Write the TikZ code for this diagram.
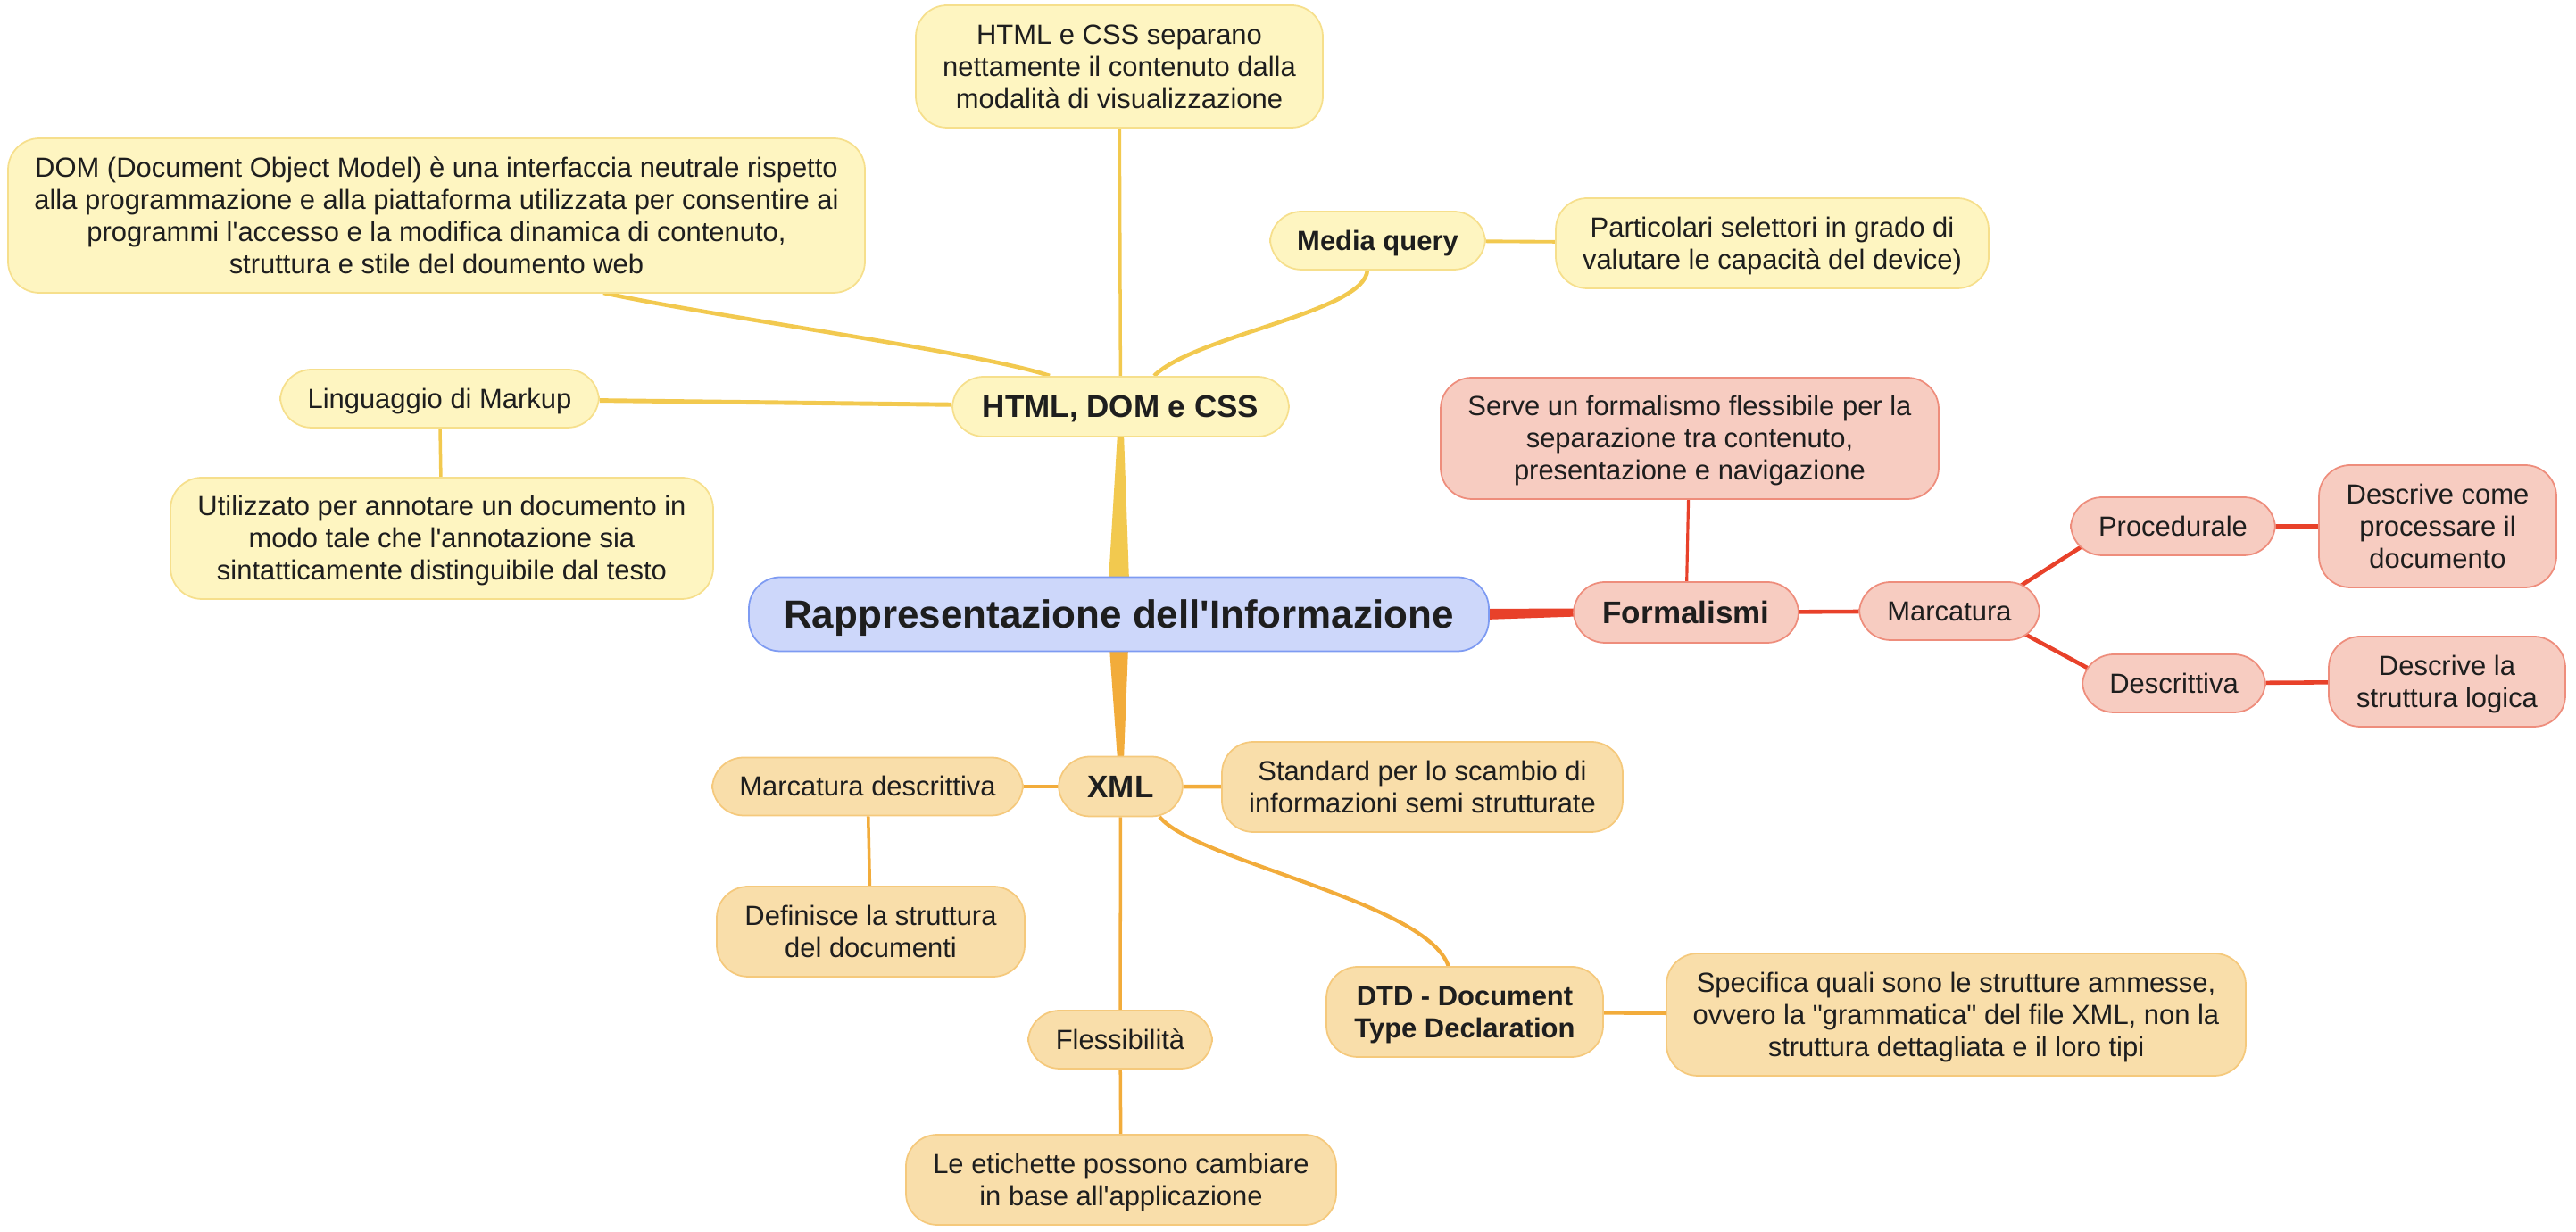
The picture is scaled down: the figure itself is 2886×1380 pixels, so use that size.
\documentclass[tikz,border=0pt]{standalone}
\usepackage{fontspec}
\setmainfont{Liberation Sans}
\usetikzlibrary{calc,backgrounds}
\definecolor{rootfill}{HTML}{CDD7FA}
\definecolor{rootdraw}{HTML}{7E9BF2}
\definecolor{yfill}{HTML}{FEF5C1}
\definecolor{ydraw}{HTML}{F6DF8C}
\definecolor{yline}{HTML}{F2C94F}
\definecolor{ofill}{HTML}{F9DEAA}
\definecolor{odraw}{HTML}{F5C97C}
\definecolor{oline}{HTML}{F2AC3B}
\definecolor{rfill}{HTML}{F7CCC1}
\definecolor{rdraw}{HTML}{EE8D7C}
\definecolor{rline}{HTML}{E8412A}
\definecolor{txt}{HTML}{1E1E1E}
\newcommand{\normtxt}{\fontsize{8.8pt}{10.25pt}\selectfont}
\newcommand{\lvltxt}{\fontsize{9.96pt}{11.5pt}\selectfont\bfseries}
\newcommand{\roottxt}{\fontsize{12.5pt}{14.5pt}\selectfont\bfseries}
\newcommand{\tstr}{\vrule width0pt height 7.95pt\relax}
\newcommand{\bstr}{\vrule width0pt depth 1.87pt\relax}
\begin{document}
\begin{tikzpicture}[x=0.01cm,y=-0.01cm,
  box/.style={draw, line width=0.5pt, rounded corners=10pt, align=center, inner sep=0pt, text=txt, font=\normtxt},
  wh/.style 2 args={minimum width=#1*0.01cm, minimum height=#2*0.01cm},
  sl/.style={text height=7.95pt, text depth=1.87pt},
  sllvl/.style={text height=9pt, text depth=2.1pt},
  ybox/.style={box, fill=yfill, draw=ydraw},
  obox/.style={box, fill=ofill, draw=odraw},
  rbox/.style={box, fill=rfill, draw=rdraw},
  yl/.style={draw=yline, line width=#1},
  ol/.style={draw=oline, line width=#1},
  rl/.style={draw=rline, line width=#1}
]
\useasboundingbox (0,0) rectangle (2886,1380);

% root
\node[box, fill=rootfill, draw=rootdraw, wh={829}{83}, font=\roottxt, text height=11.3pt, text depth=2.65pt] (root) at (1253.5,688) {Rappresentazione dell\textquotesingle Informazione};

% yellow branch
\node[ybox, wh={377}{67}, font=\lvltxt, sllvl] (html) at (1255.5,455.5) {HTML, DOM e CSS};
\node[ybox, wh={456}{137}] (htmlcss) at (1254,74.5) {\tstr HTML e CSS separano\\nettamente il contenuto dalla\\modalità di visualizzazione\bstr};
\node[ybox, wh={241}{65}, font=\normtxt\bfseries, sl] (media) at (1543.5,269.5) {Media query};
\node[ybox, wh={485}{101}] (partic) at (1985.5,272.5) {\tstr Particolari selettori in grado di\\valutare le capacità del device)\bstr};
\node[ybox, wh={960}{173}] (dom) at (489,241.5) {\tstr DOM (Document Object Model) è una interfaccia neutrale rispetto\\alla programmazione e alla piattaforma utilizzata per consentire ai\\programmi l\textquotesingle accesso e la modifica dinamica di contenuto,\\struttura e stile del doumento web\bstr};
\node[ybox, wh={357}{65}, sl] (ling) at (492.5,446.5) {Linguaggio di Markup};
\node[ybox, wh={608}{136}] (util) at (495,603) {\tstr Utilizzato per annotare un documento in\\modo tale che l\textquotesingle annotazione sia\\sintatticamente distinguibile dal testo\bstr};

% red branch
\node[rbox, wh={252}{68}, font=\lvltxt, sllvl] (form) at (1889,686) {Formalismi};
\node[rbox, wh={558}{136}] (serve) at (1893,491) {\tstr Serve un formalismo flessibile per la\\separazione tra contenuto,\\presentazione e navigazione\bstr};
\node[rbox, wh={202}{65}, sl] (marc) at (2184,684.5) {Marcatura};
\node[rbox, wh={229}{65}, sl] (proc) at (2434.5,589.5) {Procedurale};
\node[rbox, wh={266}{137}] (descome) at (2731,589.5) {\tstr Descrive come\\processare il\\documento\bstr};
\node[rbox, wh={205}{65}, sl] (descr) at (2435.5,765.5) {Descrittiva};
\node[rbox, wh={265}{101}] (descla) at (2741.5,763.5) {\tstr Descrive la\\struttura logica\bstr};

% orange branch
\node[obox, wh={139}{67}, font=\lvltxt, sllvl] (xml) at (1255.5,881) {XML};
\node[obox, wh={348}{65}, sl] (marcd) at (972,881) {Marcatura descrittiva};
\node[obox, wh={345}{101}] (defin) at (975.5,1043.5) {\tstr Definisce la struttura\\del documenti\bstr};
\node[obox, wh={449}{101}] (stand) at (1593.5,881.5) {\tstr Standard per lo scambio di\\informazioni semi strutturate\bstr};
\node[obox, wh={206}{65}, sl] (fless) at (1255,1164.5) {Flessibilità};
\node[obox, wh={482}{101}] (letich) at (1256,1321.5) {\tstr Le etichette possono cambiare\\in base all\textquotesingle applicazione\bstr};
\node[obox, wh={310}{101}, font=\normtxt\bfseries] (dtd) at (1641,1133.5) {\tstr DTD - Document\\Type Declaration\bstr};
\node[obox, wh={649}{137}] (spec) at (2191.5,1136.5) {\tstr Specifica quali sono le strutture ammesse,\\ovvero la \textquotedbl grammatica\textquotedbl{} del file XML, non la\\struttura dettagliata e il loro tipi\bstr};

\begin{scope}[on background layer]
% tapered main connectors
\fill[yline] ($(root.north)+(-11.5,5)$) -- ($(root.north)+(11.5,5)$) -- ($(html.south)+(3.5,-5)$) -- ($(html.south)+(-3.5,-5)$) -- cycle;
\fill[oline] ($(root.south)+(-10.5,-5)$) -- ($(root.south)+(10.5,-5)$) -- ($(xml.north)+(3.5,5)$) -- ($(xml.north)+(-3.5,5)$) -- cycle;
\fill[rline] ($(root.east)+(-5,-6)$) -- ($(form.west)+(5,-4.5)$) -- ($(form.west)+(5,4.5)$) -- ($(root.east)+(-5,6)$) -- cycle;
% yellow
\draw[yl=1pt] (html) -- (htmlcss);
\draw[yl=1.3pt] ($(html)+(-79.5,-34.5)$) .. controls (1100,395) and (800,355) .. ($(dom)+(187,86.5)$);
\draw[yl=1.4pt] (html) -- (ling);
\draw[yl=1pt] (ling) -- (util);
\draw[yl=1.3pt] ($(html)+(37.5,-34.5)$) .. controls (1340,375) and (1530,350) .. ($(media)+(-11.5,32.5)$);
\draw[yl=1.1pt] (media) -- (partic);
% red
\draw[rl=0.9pt] (form) -- (serve);
\draw[rl=1.3pt] (form) -- (marc);
\draw[rl=1.3pt] ($(marc)+(66,-19.5)$) -- ($(proc)+(-89.5,14.5)$);
\draw[rl=1.3pt] ($(marc)+(71,18.5)$) -- ($(descr)+(-80.5,-8.5)$);
\draw[rl=1.3pt] (proc) -- (descome);
\draw[rl=1.3pt] (descr) -- (descla);
% orange
\draw[ol=1.3pt] (xml) -- (marcd);
\draw[ol=1.3pt] (xml) -- (stand);
\draw[ol=1pt] (marcd) -- (defin);
\draw[ol=1pt] (xml) -- (fless);
\draw[ol=1pt] (fless) -- (letich);
\draw[ol=1.2pt] ($(xml)+(43.5,34)$) .. controls (1340,965) and (1600,1010) .. ($(dtd)+(-18,-50.5)$);
\draw[ol=1.3pt] (dtd) -- (spec);
\end{scope}
\end{tikzpicture}
\end{document}
